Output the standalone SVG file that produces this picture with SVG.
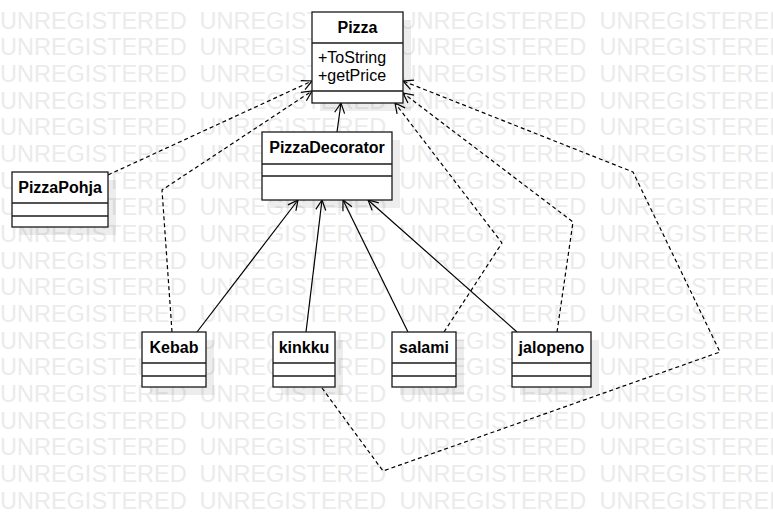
<svg xmlns="http://www.w3.org/2000/svg" xmlns:xlink="http://www.w3.org/1999/xlink" width="773" height="523" viewBox="0 0 773 523">
<style>
.wm{font-family:"Liberation Sans",Arial,sans-serif;font-size:23.5px;fill:#ebebeb}
.box{fill:#fff;stroke:#1a1a1a;stroke-width:1.3}
.sh{fill:#000;fill-opacity:0.07}
.div{stroke:#1a1a1a;stroke-width:1.3}
.t{font-family:"Liberation Sans",Arial,sans-serif;font-size:16px;font-weight:bold;fill:#000;text-anchor:middle}
.a{font-family:"Liberation Sans",Arial,sans-serif;font-size:16px;fill:#000}
.c{fill:none;stroke:#000;stroke-width:1.2;stroke-linejoin:round}
.d{stroke-dasharray:4 3}
</style>
<defs>
<marker id="arr" markerWidth="12" markerHeight="12" refX="11" refY="6" orient="auto" markerUnits="userSpaceOnUse">
<path d="M1,1 L11,6 L1,11" fill="none" stroke="#000" stroke-width="1.2" stroke-dasharray="none"/>
</marker>
<g id="wmrow">
<text class="wm" x="0" y="0">UNREGISTERED</text>
<text class="wm" x="199.5" y="0">UNREGISTERED</text>
<text class="wm" x="399.5" y="0">UNREGISTERED</text>
<text class="wm" x="599.5" y="0">UNREGISTERED</text>
</g>
</defs>
<rect width="773" height="523" fill="#fff"/>
<g id="watermark">
<use xlink:href="#wmrow" y="28.5"/>
<use xlink:href="#wmrow" y="55.2"/>
<use xlink:href="#wmrow" y="81.8"/>
<use xlink:href="#wmrow" y="108.5"/>
<use xlink:href="#wmrow" y="135.2"/>
<use xlink:href="#wmrow" y="161.8"/>
<use xlink:href="#wmrow" y="188.5"/>
<use xlink:href="#wmrow" y="215.2"/>
<use xlink:href="#wmrow" y="241.8"/>
<use xlink:href="#wmrow" y="268.5"/>
<use xlink:href="#wmrow" y="295.2"/>
<use xlink:href="#wmrow" y="321.8"/>
<use xlink:href="#wmrow" y="348.5"/>
<use xlink:href="#wmrow" y="375.2"/>
<use xlink:href="#wmrow" y="401.8"/>
<use xlink:href="#wmrow" y="428.5"/>
<use xlink:href="#wmrow" y="455.2"/>
<use xlink:href="#wmrow" y="481.8"/>
<use xlink:href="#wmrow" y="508.5"/>
</g>
<g id="connectors">
<path class="c" d="M337,132 L341,103" marker-end="url(#arr)"/>
<path class="c" d="M197,332 L298,200" marker-end="url(#arr)"/>
<path class="c" d="M306,332 L322,200" marker-end="url(#arr)"/>
<path class="c" d="M408,332 L343,200" marker-end="url(#arr)"/>
<path class="c" d="M517,332 L368,200" marker-end="url(#arr)"/>
<path class="c d" d="M108,175 L312,81" marker-end="url(#arr)"/>
<path class="c d" d="M172,332 L162,190 L312,91" marker-end="url(#arr)"/>
<path class="c d" d="M444,332 L502,243 L395,103" marker-end="url(#arr)"/>
<path class="c d" d="M557,332 L573,222 L403,93" marker-end="url(#arr)"/>
<path class="c d" d="M322,388 L383,471 L720,352 L633,172 L403,81" marker-end="url(#arr)"/>
</g>
<g id="Pizza">
<rect class="sh" x="320" y="20" width="91" height="91"/>
<rect class="box" x="312" y="12" width="91" height="91"/>
<line class="div" x1="312" y1="43" x2="403" y2="43"/>
<line class="div" x1="312" y1="91" x2="403" y2="91"/>
<text class="t" x="357.5" y="33">Pizza</text>
<text class="a" x="318" y="63">+ToString</text>
<text class="a" x="318" y="81">+getPrice</text>
</g>
<g id="PizzaDecorator">
<rect class="sh" x="270" y="140" width="130" height="68"/>
<rect class="box" x="262" y="132" width="130" height="68"/>
<line class="div" x1="262" y1="164" x2="392" y2="164"/>
<line class="div" x1="262" y1="176" x2="392" y2="176"/>
<text class="t" x="327" y="153">PizzaDecorator</text>
</g>
<g id="PizzaPohja">
<rect class="sh" x="20" y="180" width="96" height="55"/>
<rect class="box" x="12" y="172" width="96" height="55"/>
<line class="div" x1="12" y1="203" x2="108" y2="203"/>
<line class="div" x1="12" y1="216" x2="108" y2="216"/>
<text class="t" x="60" y="193">PizzaPohja</text>
</g>
<g id="Kebab">
<rect class="sh" x="150" y="340" width="64" height="55"/>
<rect class="box" x="142" y="332" width="64" height="55"/>
<line class="div" x1="142" y1="363" x2="206" y2="363"/>
<line class="div" x1="142" y1="376" x2="206" y2="376"/>
<text class="t" x="174" y="353">Kebab</text>
</g>
<g id="kinkku">
<rect class="sh" x="281" y="340" width="62" height="55"/>
<rect class="box" x="273" y="332" width="62" height="55"/>
<line class="div" x1="273" y1="363" x2="335" y2="363"/>
<line class="div" x1="273" y1="376" x2="335" y2="376"/>
<text class="t" x="304" y="353">kinkku</text>
</g>
<g id="salami">
<rect class="sh" x="400" y="340" width="64" height="55"/>
<rect class="box" x="392" y="332" width="64" height="55"/>
<line class="div" x1="392" y1="363" x2="456" y2="363"/>
<line class="div" x1="392" y1="376" x2="456" y2="376"/>
<text class="t" x="424" y="353">salami</text>
</g>
<g id="jalopeno">
<rect class="sh" x="520" y="340" width="79" height="55"/>
<rect class="box" x="512" y="332" width="79" height="55"/>
<line class="div" x1="512" y1="363" x2="591" y2="363"/>
<line class="div" x1="512" y1="376" x2="591" y2="376"/>
<text class="t" x="551.5" y="353">jalopeno</text>
</g>
</svg>
